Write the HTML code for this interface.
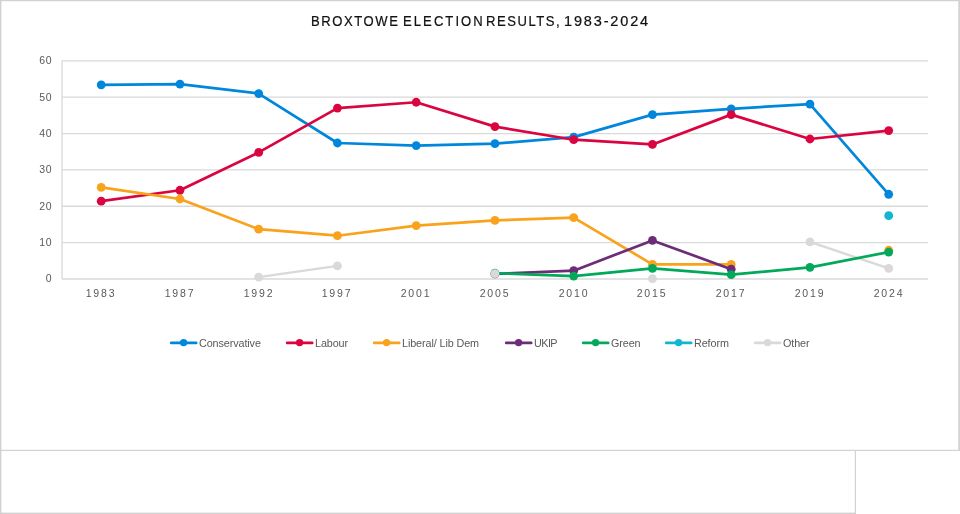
<!DOCTYPE html>
<html><head><meta charset="utf-8"><title>Broxtowe Election Results</title>
<style>
html,body{margin:0;padding:0;background:#fff;}
body{width:960px;height:514px;position:relative;overflow:hidden;font-family:"Liberation Sans",sans-serif;}
.frame{position:absolute;left:0;top:0;width:958px;height:449px;border:1.5px solid #D0D0D0;box-sizing:content-box;}
.box2{position:absolute;left:0;top:450px;width:854px;height:62px;border:1.5px solid #D0D0D0;border-top:none;}
.title{position:absolute;left:0;top:13px;width:960px;font-size:14.5px;color:#111;white-space:nowrap;}
.title span{position:absolute;top:0;transform:scaleX(0.9);transform-origin:0 0;-webkit-text-stroke:0.22px #111;}
.yl,.xl,.lg,.title{will-change:transform;}
.yl{position:absolute;left:20.5px;width:31px;text-align:right;font-size:10.5px;letter-spacing:0.5px;color:#595959;line-height:14px;}
.xl{position:absolute;top:285.5px;width:80px;text-align:center;font-size:10.5px;letter-spacing:1.8px;color:#595959;line-height:14px;}
.lg{position:absolute;top:335.7px;font-size:10.8px;color:#595959;line-height:14px;white-space:nowrap;letter-spacing:-0.1px}
</style></head><body>

<div class="title"><span style="left:310.9px;letter-spacing:1.75px">BROXTOWE</span><span style="left:403.1px;letter-spacing:2.3px">ELECTION</span><span style="left:485.9px;letter-spacing:1.7px">RESULTS,</span><span style="left:564px;letter-spacing:1.85px;transform:none">1983-2024</span></div>
<div class="yl" style="top:271.4px">0</div>
<div class="yl" style="top:235.0px">10</div>
<div class="yl" style="top:198.7px">20</div>
<div class="yl" style="top:162.3px">30</div>
<div class="yl" style="top:125.9px">40</div>
<div class="yl" style="top:89.6px">50</div>
<div class="yl" style="top:53.2px">60</div>
<div class="xl" style="left:61.1px">1983</div>
<div class="xl" style="left:139.8px">1987</div>
<div class="xl" style="left:218.6px">1992</div>
<div class="xl" style="left:297.3px">1997</div>
<div class="xl" style="left:376.1px">2001</div>
<div class="xl" style="left:454.8px">2005</div>
<div class="xl" style="left:533.6px">2010</div>
<div class="xl" style="left:612.4px">2015</div>
<div class="xl" style="left:691.1px">2017</div>
<div class="xl" style="left:769.9px">2019</div>
<div class="xl" style="left:848.6px">2024</div>
<div class="lg" style="left:199px">Conservative</div>
<div class="lg" style="left:315px">Labour</div>
<div class="lg" style="left:402px">Liberal/ Lib Dem</div>
<div class="lg" style="left:534px;letter-spacing:-0.55px">UKIP</div>
<div class="lg" style="left:611px">Green</div>
<div class="lg" style="left:694px">Reform</div>
<div class="lg" style="left:783px">Other</div>
<svg width="960" height="514" viewBox="0 0 960 514" style="position:absolute;left:0;top:0">
<rect x="0" y="0" width="960" height="1.2" fill="#D2D2D2"/>
<rect x="0" y="0" width="1.4" height="514" fill="#D2D2D2"/>
<rect x="958.3" y="0" width="1.7" height="451" fill="#D2D2D2"/>
<rect x="0" y="449.8" width="960" height="1.2" fill="#D2D2D2"/>
<rect x="854.8" y="450" width="1.2" height="64" fill="#D2D2D2"/>
<rect x="0" y="512.6" width="856" height="1.4" fill="#D2D2D2"/>
<line x1="62.0" y1="279.00" x2="928.0" y2="279.00" stroke="#D9D9D9" stroke-width="1.3"/>
<line x1="62.0" y1="242.63" x2="928.0" y2="242.63" stroke="#D9D9D9" stroke-width="1.3"/>
<line x1="62.0" y1="206.27" x2="928.0" y2="206.27" stroke="#D9D9D9" stroke-width="1.3"/>
<line x1="62.0" y1="169.90" x2="928.0" y2="169.90" stroke="#D9D9D9" stroke-width="1.3"/>
<line x1="62.0" y1="133.53" x2="928.0" y2="133.53" stroke="#D9D9D9" stroke-width="1.3"/>
<line x1="62.0" y1="97.17" x2="928.0" y2="97.17" stroke="#D9D9D9" stroke-width="1.3"/>
<line x1="62.0" y1="60.80" x2="928.0" y2="60.80" stroke="#D9D9D9" stroke-width="1.3"/>
<line x1="62.0" y1="60.8" x2="62.0" y2="279.0" stroke="#D9D9D9" stroke-width="1.3"/>
<polyline points="258.70,277.18 337.45,265.91" fill="none" stroke="#D9D9D9" stroke-width="2.4" stroke-linecap="round" stroke-linejoin="round"/>
<polyline points="809.95,241.91 888.70,268.45" fill="none" stroke="#D9D9D9" stroke-width="2.4" stroke-linecap="round" stroke-linejoin="round"/>
<polyline points="101.20,84.80 179.95,84.07 258.70,93.53 337.45,142.99 416.20,145.53 494.95,143.72 573.70,137.17 652.45,114.62 731.20,108.80 809.95,104.08 888.70,194.27" fill="none" stroke="#0087DC" stroke-width="2.7" stroke-linecap="round" stroke-linejoin="round"/>
<circle cx="101.20" cy="84.80" r="4.4" fill="#0087DC"/>
<circle cx="179.95" cy="84.07" r="4.4" fill="#0087DC"/>
<circle cx="258.70" cy="93.53" r="4.4" fill="#0087DC"/>
<circle cx="337.45" cy="142.99" r="4.4" fill="#0087DC"/>
<circle cx="416.20" cy="145.53" r="4.4" fill="#0087DC"/>
<circle cx="494.95" cy="143.72" r="4.4" fill="#0087DC"/>
<circle cx="573.70" cy="137.17" r="4.4" fill="#0087DC"/>
<circle cx="652.45" cy="114.62" r="4.4" fill="#0087DC"/>
<circle cx="731.20" cy="108.80" r="4.4" fill="#0087DC"/>
<circle cx="809.95" cy="104.08" r="4.4" fill="#0087DC"/>
<circle cx="888.70" cy="194.27" r="4.4" fill="#0087DC"/>
<polyline points="101.20,201.18 179.95,190.27 258.70,152.44 337.45,108.08 416.20,102.26 494.95,126.62 573.70,139.72 652.45,144.44 731.20,114.62 809.95,138.99 888.70,130.62" fill="none" stroke="#DA0540" stroke-width="2.7" stroke-linecap="round" stroke-linejoin="round"/>
<circle cx="101.20" cy="201.18" r="4.4" fill="#DA0540"/>
<circle cx="179.95" cy="190.27" r="4.4" fill="#DA0540"/>
<circle cx="258.70" cy="152.44" r="4.4" fill="#DA0540"/>
<circle cx="337.45" cy="108.08" r="4.4" fill="#DA0540"/>
<circle cx="416.20" cy="102.26" r="4.4" fill="#DA0540"/>
<circle cx="494.95" cy="126.62" r="4.4" fill="#DA0540"/>
<circle cx="573.70" cy="139.72" r="4.4" fill="#DA0540"/>
<circle cx="652.45" cy="144.44" r="4.4" fill="#DA0540"/>
<circle cx="731.20" cy="114.62" r="4.4" fill="#DA0540"/>
<circle cx="809.95" cy="138.99" r="4.4" fill="#DA0540"/>
<circle cx="888.70" cy="130.62" r="4.4" fill="#DA0540"/>
<polyline points="101.20,187.36 179.95,198.99 258.70,229.18 337.45,235.72 416.20,225.54 494.95,220.45 573.70,217.54 652.45,264.45 731.20,264.45" fill="none" stroke="#F9A21B" stroke-width="2.7" stroke-linecap="round" stroke-linejoin="round"/>
<circle cx="101.20" cy="187.36" r="4.4" fill="#F9A21B"/>
<circle cx="179.95" cy="198.99" r="4.4" fill="#F9A21B"/>
<circle cx="258.70" cy="229.18" r="4.4" fill="#F9A21B"/>
<circle cx="337.45" cy="235.72" r="4.4" fill="#F9A21B"/>
<circle cx="416.20" cy="225.54" r="4.4" fill="#F9A21B"/>
<circle cx="494.95" cy="220.45" r="4.4" fill="#F9A21B"/>
<circle cx="573.70" cy="217.54" r="4.4" fill="#F9A21B"/>
<circle cx="652.45" cy="264.45" r="4.4" fill="#F9A21B"/>
<circle cx="731.20" cy="264.45" r="4.4" fill="#F9A21B"/>
<circle cx="888.70" cy="250.27" r="4.4" fill="#F9A21B"/>
<polyline points="494.95,273.91 573.70,270.64 652.45,240.45 731.20,269.18" fill="none" stroke="#6D2C78" stroke-width="2.7" stroke-linecap="round" stroke-linejoin="round"/>
<circle cx="494.95" cy="273.91" r="4.4" fill="#6D2C78"/>
<circle cx="573.70" cy="270.64" r="4.4" fill="#6D2C78"/>
<circle cx="652.45" cy="240.45" r="4.4" fill="#6D2C78"/>
<circle cx="731.20" cy="269.18" r="4.4" fill="#6D2C78"/>
<polyline points="494.95,273.18 573.70,276.09 652.45,268.45 731.20,274.64 809.95,267.36 888.70,252.09" fill="none" stroke="#02A95B" stroke-width="2.7" stroke-linecap="round" stroke-linejoin="round"/>
<circle cx="494.95" cy="273.18" r="4.4" fill="#02A95B"/>
<circle cx="573.70" cy="276.09" r="4.4" fill="#02A95B"/>
<circle cx="652.45" cy="268.45" r="4.4" fill="#02A95B"/>
<circle cx="731.20" cy="274.64" r="4.4" fill="#02A95B"/>
<circle cx="809.95" cy="267.36" r="4.4" fill="#02A95B"/>
<circle cx="888.70" cy="252.09" r="4.4" fill="#02A95B"/>
<circle cx="888.70" cy="215.72" r="4.4" fill="#12B6CF"/>
<circle cx="258.70" cy="277.18" r="4.4" fill="#D9D9D9"/>
<circle cx="337.45" cy="265.91" r="4.4" fill="#D9D9D9"/>
<circle cx="494.95" cy="273.55" r="4.4" fill="#D9D9D9"/>
<circle cx="652.45" cy="278.64" r="4.4" fill="#D9D9D9"/>
<circle cx="809.95" cy="241.91" r="4.4" fill="#D9D9D9"/>
<circle cx="888.70" cy="268.45" r="4.4" fill="#D9D9D9"/>
<line x1="171.2" y1="342.9" x2="196.2" y2="342.9" stroke="#0087DC" stroke-width="2.7" stroke-linecap="round"/>
<circle cx="183.6" cy="342.6" r="3.7" fill="#0087DC"/>
<line x1="287.2" y1="342.9" x2="312.2" y2="342.9" stroke="#DA0540" stroke-width="2.7" stroke-linecap="round"/>
<circle cx="299.6" cy="342.6" r="3.7" fill="#DA0540"/>
<line x1="374.2" y1="342.9" x2="399.2" y2="342.9" stroke="#F9A21B" stroke-width="2.7" stroke-linecap="round"/>
<circle cx="386.6" cy="342.6" r="3.7" fill="#F9A21B"/>
<line x1="506.2" y1="342.9" x2="531.2" y2="342.9" stroke="#6D2C78" stroke-width="2.7" stroke-linecap="round"/>
<circle cx="518.6" cy="342.6" r="3.7" fill="#6D2C78"/>
<line x1="583.2" y1="342.9" x2="608.2" y2="342.9" stroke="#02A95B" stroke-width="2.7" stroke-linecap="round"/>
<circle cx="595.6" cy="342.6" r="3.7" fill="#02A95B"/>
<line x1="666.2" y1="342.9" x2="691.2" y2="342.9" stroke="#12B6CF" stroke-width="2.7" stroke-linecap="round"/>
<circle cx="678.6" cy="342.6" r="3.7" fill="#12B6CF"/>
<line x1="755.2" y1="342.9" x2="780.2" y2="342.9" stroke="#D9D9D9" stroke-width="2.7" stroke-linecap="round"/>
<circle cx="767.6" cy="342.6" r="3.7" fill="#D9D9D9"/>
</svg>
</body></html>
